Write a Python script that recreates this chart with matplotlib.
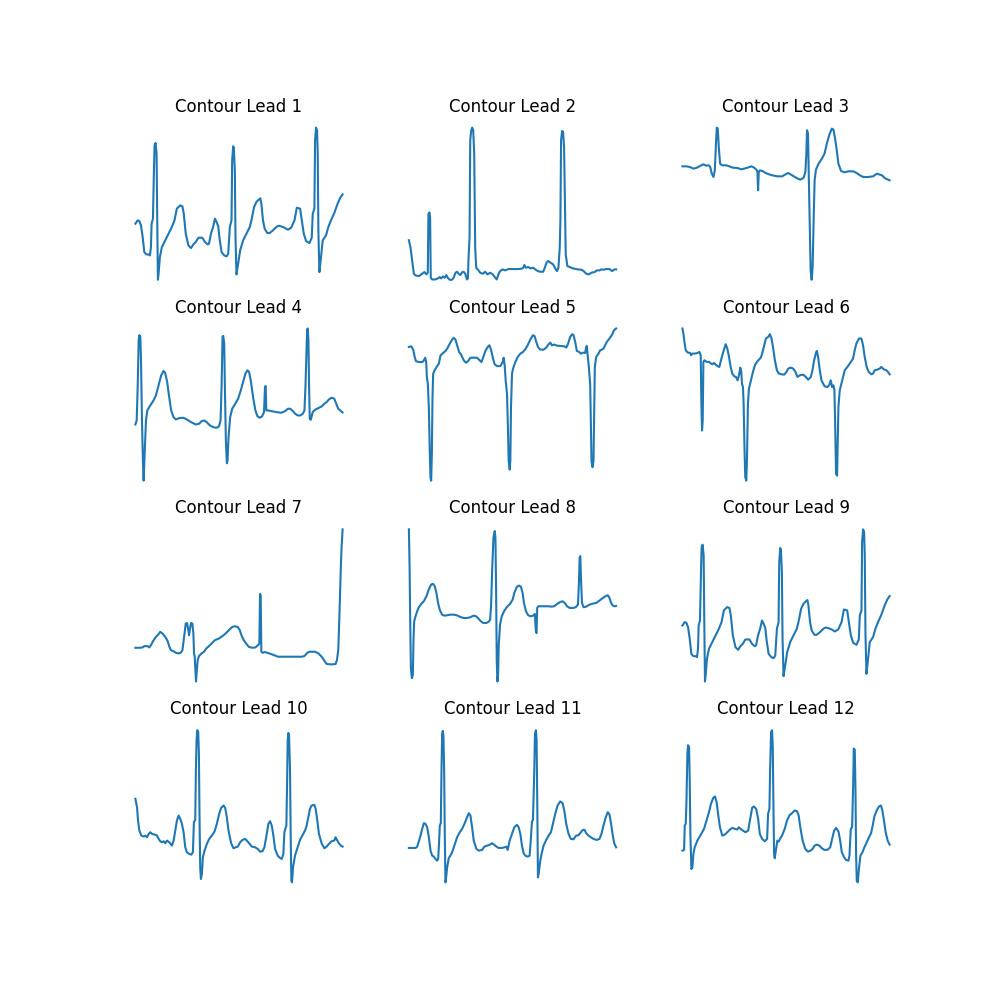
import matplotlib
matplotlib.use("Agg")
import matplotlib.pyplot as plt

# sample position / level (level grows downward)
lead1_t = [30, 37, 42, 47, 52, 57, 63, 70, 74, 77, 79, 83, 86, 88, 91, 94, 96, 98, 100, 104, 110, 120, 130, 140, 148,
           155, 165, 172, 176, 182, 190, 198, 205, 212, 220, 232, 240, 248, 252, 258, 265, 270, 275, 280, 284, 290,
           298, 305, 310, 315, 320, 322, 325, 327, 330, 332, 335, 340, 346, 355, 365, 375, 380, 388, 395, 402, 407,
           410, 415, 420, 428, 435, 445, 455, 462, 470, 480, 490, 500, 510, 517, 527, 532, 538, 545, 555, 562, 565,
           570, 572, 575, 578, 580, 582, 585, 590, 595, 605, 612, 620, 630, 640, 648, 655]
lead1_v = [310, 300, 302, 315, 350, 395, 402, 402, 405, 380, 310, 295, 150, 75, 68, 100, 300, 478, 460, 410, 380, 360,
           340, 320, 300, 265, 255, 258, 280, 340, 375, 383, 372, 365, 352, 352, 365, 372, 370, 340, 318, 295, 305,
           318, 355, 395, 405, 408, 400, 320, 300, 120, 78, 82, 150, 350, 462, 430, 390, 360, 340, 320, 300, 260, 245,
           238, 234, 250, 300, 325, 338, 338, 330, 320, 316, 318, 322, 328, 322, 300, 262, 265, 300, 340, 362, 368,
           352, 280, 265, 60, 22, 30, 100, 330, 455, 410, 360, 345, 320, 300, 278, 250, 232, 222]

lead2_t = [25, 30, 35, 40, 45, 55, 65, 72, 78, 82, 84, 87, 89, 91, 95, 105, 112, 118, 122, 128, 133, 138, 142, 148,
           155, 160, 165, 170, 175, 180, 185, 190, 195, 200, 203, 205, 208, 210, 213, 216, 219, 222, 225, 228, 235,
           240, 248, 255, 262, 270, 278, 284, 290, 295, 300, 308, 315, 325, 340, 355, 365, 370, 373, 378, 385, 392,
           400, 410, 420, 430, 435, 440, 445, 452, 460, 468, 472, 476, 480, 482, 484, 487, 490, 493, 495, 498, 503,
           510, 520, 535, 545, 552, 560, 568, 575, 585, 592, 600, 605, 612, 620, 630, 638, 645, 650]
lead2_v = [358, 380, 420, 458, 463, 465, 458, 453, 460, 455, 280, 275, 290, 470, 475, 475, 472, 468, 472, 466, 470,
           462, 470, 476, 476, 470, 456, 452, 458, 462, 454, 452, 458, 475, 472, 410, 350, 60, 30, 22, 30, 100, 380,
           440, 448, 455, 458, 452, 460, 455, 460, 468, 475, 460, 450, 445, 448, 444, 444, 444, 443, 440, 432, 440,
           438, 442, 440, 448, 452, 452, 440, 425, 420, 425, 430, 445, 450, 440, 380, 300, 60, 32, 35, 80, 200, 400,
           435, 438, 442, 445, 446, 450, 458, 460, 455, 453, 448, 448, 445, 446, 444, 444, 450, 445, 445]

lead3_t = [28, 40, 50, 62, 72, 85, 92, 100, 108, 112, 117, 122, 126, 130, 132, 135, 138, 142, 148, 160, 170, 180, 195,
           205, 215, 225, 237, 245, 252, 255, 257, 259, 262, 270, 280, 290, 300, 315, 330, 340, 348, 355, 365, 375,
           385, 395, 400, 403, 405, 408, 410, 413, 416, 419, 422, 425, 428, 432, 440, 450, 458, 465, 472, 480, 485,
           490, 495, 500, 508, 518, 530, 545, 555, 565, 575, 590, 605, 612, 618, 625, 632, 640, 648, 655]
lead3_v = [138, 138, 140, 145, 142, 135, 132, 136, 135, 140, 160, 170, 150, 60, 22, 25, 80, 130, 135, 135, 138, 142,
           143, 147, 145, 142, 138, 142, 148, 155, 210, 155, 150, 152, 158, 162, 165, 168, 168, 162, 158, 162, 168,
           174, 178, 172, 155, 100, 30, 40, 150, 300, 450, 478, 440, 300, 180, 148, 130, 115, 100, 70, 45, 25, 28,
           55, 90, 130, 152, 156, 153, 153, 158, 165, 170, 170, 168, 163, 160, 163, 165, 173, 177, 180]

lead4_t = [30, 34, 37, 40, 42, 45, 47, 50, 53, 55, 58, 62, 66, 75, 85, 92, 100, 108, 115, 120, 126, 132, 138, 145,
           152, 162, 175, 185, 198, 212, 222, 230, 238, 245, 255, 265, 275, 282, 287, 290, 293, 295, 298, 300, 303,
           306, 308, 311, 316, 322, 330, 340, 348, 355, 362, 368, 373, 378, 385, 392, 398, 405, 412, 418, 421, 423,
           425, 430, 440, 455, 470, 482, 490, 497, 505, 512, 520, 528, 535, 540, 543, 546, 548, 550, 552, 554, 556,
           559, 565, 572, 582, 592, 600, 607, 614, 622, 630, 636, 642, 650, 655]
lead4_v = [312, 300, 200, 60, 45, 50, 120, 300, 430, 480, 400, 300, 270, 255, 240, 225, 195, 165, 152, 158, 185, 230,
           270, 290, 297, 293, 292, 297, 305, 312, 310, 302, 300, 305, 315, 320, 322, 318, 300, 200, 50, 47, 70, 200,
           360, 428, 420, 350, 290, 265, 252, 235, 210, 185, 160, 150, 155, 180, 230, 270, 287, 292, 288, 275, 200,
           197, 270, 270, 272, 275, 277, 272, 265, 265, 272, 280, 285, 285, 280, 270, 200, 100, 28, 25, 60, 200, 295,
           298, 275, 268, 263, 258, 250, 245, 237, 232, 235, 250, 265, 272, 276]

lead5_t = [25, 32, 38, 42, 46, 55, 65, 70, 74, 77, 79, 82, 85, 88, 90, 92, 94, 96, 98, 102, 108, 115, 120, 128, 135,
           140, 148, 155, 160, 165, 170, 176, 182, 190, 197, 203, 210, 220, 230, 238, 243, 248, 255, 262, 267, 272,
           278, 283, 290, 300, 307, 310, 313, 316, 320, 323, 325, 328, 330, 332, 335, 338, 345, 352, 360, 368, 375,
           382, 390, 398, 403, 408, 413, 420, 430, 438, 445, 450, 455, 462, 470, 480, 492, 498, 503, 510, 516, 520,
           525, 530, 537, 542, 548, 555, 558, 560, 562, 566, 570, 572, 574, 577, 580, 582, 584, 588, 595, 600, 605,
           610, 615, 620, 628, 635, 642, 648]
lead5_v = [80, 78, 88, 108, 122, 125, 125, 120, 112, 125, 170, 190, 260, 400, 470, 478, 400, 230, 160, 150, 140, 130,
           105, 98, 92, 85, 70, 58, 53, 58, 75, 95, 103, 120, 127, 122, 112, 112, 112, 120, 125, 112, 92, 80, 75, 88,
           115, 132, 137, 137, 125, 112, 135, 180, 220, 330, 420, 445, 420, 260, 160, 145, 125, 110, 100, 95, 87, 75,
           58, 45, 48, 65, 80, 88, 88, 82, 72, 67, 75, 73, 76, 77, 78, 82, 72, 50, 42, 45, 65, 92, 95, 100, 97, 98,
           80, 77, 100, 140, 190, 300, 420, 438, 420, 280, 140, 110, 100, 90, 88, 85, 75, 65, 55, 45, 30, 25]

lead6_t = [32, 35, 38, 42, 48, 55, 58, 62, 70, 78, 83, 87, 89, 91, 93, 95, 98, 105, 112, 118, 122, 127, 132, 138, 143,
           148, 152, 157, 162, 167, 172, 177, 182, 188, 193, 198, 202, 206, 209, 211, 214, 216, 219, 221, 224, 226,
           229, 232, 238, 244, 250, 256, 263, 268, 273, 278, 283, 290, 295, 300, 305, 310, 316, 322, 330, 338, 345,
           350, 358, 365, 372, 378, 385, 395, 403, 410, 418, 423, 428, 433, 436, 440, 445, 450, 455, 460, 468, 473,
           478, 482, 486, 489, 491, 494, 497, 499, 501, 505, 510, 515, 520, 528, 535, 545, 550, 555, 563, 570, 575,
           580, 586, 592, 600, 605, 610, 618, 625, 630, 637, 645, 650, 655]
lead6_v = [25, 40, 65, 90, 97, 98, 105, 100, 100, 98, 95, 105, 250, 330, 300, 125, 120, 125, 125, 130, 132, 128, 133,
           138, 140, 120, 105, 88, 72, 85, 110, 140, 160, 168, 170, 180, 165, 142, 155, 190, 200, 250, 400, 470, 480,
           420, 250, 205, 180, 155, 135, 125, 117, 112, 95, 75, 55, 50, 42, 55, 85, 120, 150, 160, 162, 163, 155, 145,
           142, 145, 155, 170, 165, 163, 170, 178, 170, 150, 120, 100, 92, 110, 150, 180, 190, 198, 200, 195, 180,
           200, 195, 210, 300, 460, 465, 360, 260, 210, 190, 170, 150, 140, 130, 115, 90, 70, 55, 55, 75, 110, 140,
           155, 162, 160, 150, 148, 145, 140, 147, 150, 155, 162]

lead7_t = [28, 40, 50, 55, 65, 70, 75, 82, 90, 97, 103, 110, 118, 125, 130, 135, 142, 150, 158, 165, 170, 175, 180,
           184, 188, 190, 192, 196, 200, 203, 205, 207, 209, 211, 213, 216, 220, 228, 235, 242, 250, 260, 268, 280,
           290, 298, 305, 312, 320, 328, 337, 343, 348, 355, 362, 370, 380, 390, 398, 402, 404, 406, 408, 412, 418,
           425, 432, 440, 448, 458, 470, 490, 510, 530, 538, 545, 552, 560, 570, 580, 590, 598, 605, 615, 625, 632,
           636, 640, 643, 646, 648, 650, 652, 653]
lead7_v = [383, 383, 382, 378, 378, 382, 375, 362, 350, 343, 335, 340, 350, 362, 378, 390, 393, 398, 400, 398, 390,
           350, 310, 308, 330, 345, 330, 308, 310, 340, 400, 410, 450, 485, 455, 420, 408, 400, 395, 385, 378, 368,
           360, 355, 348, 342, 335, 328, 320, 318, 320, 330, 345, 360, 370, 380, 383, 382, 375, 370, 220, 225, 395,
           398, 396, 398, 400, 403, 406, 410, 410, 410, 410, 410, 408, 400, 395, 395, 395, 400, 410, 422, 432, 433,
           433, 432, 420, 390, 300, 200, 130, 80, 45, 25]

lead8_t = [25, 27, 29, 31, 34, 37, 39, 41, 45, 50, 55, 62, 70, 78, 85, 92, 98, 103, 108, 113, 118, 125, 132, 140,
           150, 160, 170, 180, 190, 200, 210, 220, 228, 235, 242, 250, 258, 265, 270, 273, 276, 280, 284, 286, 288,
           290, 292, 294, 296, 300, 305, 312, 320, 330, 338, 343, 350, 357, 363, 368, 372, 378, 385, 392, 400, 405,
           408, 410, 412, 415, 425, 435, 445, 455, 463, 472, 480, 488, 495, 502, 510, 520, 528, 535, 538, 540, 542,
           544, 547, 552, 560, 570, 580, 590, 600, 610, 618, 625, 630, 635, 640, 645, 650]
lead8_v = [25, 130, 300, 440, 470, 460, 350, 300, 285, 270, 258, 248, 240, 225, 205, 190, 188, 195, 215, 245, 265,
           280, 283, 282, 280, 280, 282, 287, 290, 290, 288, 283, 285, 292, 300, 305, 305, 302, 295, 250, 150, 50, 30,
           50, 200, 420, 480, 460, 370, 310, 285, 270, 258, 248, 235, 215, 198, 193, 197, 215, 245, 270, 282, 285,
           283, 278, 330, 335, 260, 255, 255, 255, 255, 256, 255, 248, 243, 240, 245, 255, 260, 260, 258, 250, 180,
           110, 105, 170, 245, 258, 256, 250, 247, 245, 238, 230, 225, 222, 230, 245, 253, 255, 254]

# lead 9 traces the same beat pattern as lead 1
lead9_t = lead1_t
lead9_v = lead1_v

lead10_t = [30, 35, 38, 42, 48, 55, 60, 65, 70, 75, 80, 88, 95, 100, 105, 110, 115, 120, 125, 132, 140, 145, 150, 155,
            160, 165, 170, 175, 180, 185, 192, 198, 203, 206, 210, 212, 214, 216, 219, 221, 223, 225, 227, 230, 233,
            238, 245, 252, 260, 268, 275, 282, 288, 295, 300, 305, 310, 318, 325, 332, 338, 345, 352, 360, 365, 372,
            380, 390, 398, 405, 412, 418, 425, 430, 435, 440, 445, 450, 458, 465, 470, 475, 478, 484, 486, 488, 490,
            492, 495, 497, 499, 501, 504, 510, 518, 525, 532, 540, 545, 550, 555, 560, 568, 572, 577, 582, 590, 598,
            605, 612, 620, 628, 632, 636, 642, 648, 653]
lead10_v = [235, 260, 300, 330, 345, 348, 345, 350, 340, 335, 340, 342, 345, 355, 362, 365, 362, 368, 360, 365, 375,
            360, 330, 300, 285, 295, 310, 335, 380, 395, 400, 402, 395, 305, 298, 150, 60, 30, 35, 100, 300, 440,
            475, 460, 410, 390, 370, 355, 345, 333, 310, 280, 262, 255, 262, 290, 330, 368, 383, 380, 378, 365, 358,
            355, 360, 368, 378, 380, 385, 393, 392, 380, 340, 310, 302, 315, 345, 385, 405, 412, 415, 400, 335, 315,
            200, 60, 38, 45, 150, 350, 480, 485, 440, 405, 380, 358, 345, 330, 315, 290, 265, 255, 253, 265, 300,
            340, 368, 383, 378, 370, 362, 360, 350, 358, 368, 375, 378]

lead11_t = [25, 35, 45, 50, 55, 60, 65, 70, 75, 80, 85, 90, 95, 100, 105, 110, 113, 115, 118, 121, 123, 125, 127, 129,
            131, 133, 135, 137, 140, 145, 150, 155, 160, 165, 170, 178, 185, 192, 198, 205, 210, 215, 220, 228, 235,
            245, 252, 260, 267, 275, 282, 288, 295, 305, 313, 318, 322, 328, 335, 342, 350, 355, 360, 365, 370, 375,
            382, 388, 392, 395, 398, 402, 404, 407, 409, 411, 413, 415, 420, 425, 430, 437, 445, 452, 458, 465, 472,
            480, 487, 493, 498, 505, 512, 520, 528, 535, 542, 548, 553, 558, 565, 572, 580, 590, 598, 604, 610, 617,
            623, 628, 633, 638, 643, 648]
lead11_v = [382, 382, 382, 378, 362, 345, 325, 308, 310, 320, 350, 390, 405, 408, 415, 420, 415, 380, 315, 308, 150,
            40, 32, 50, 150, 350, 485, 470, 440, 412, 405, 395, 380, 365, 350, 335, 325, 310, 295, 278, 285, 320,
            360, 385, 390, 388, 378, 375, 373, 368, 373, 378, 382, 382, 380, 378, 388, 360, 340, 320, 313, 320, 340,
            375, 398, 405, 408, 405, 350, 303, 298, 150, 40, 30, 60, 250, 470, 460, 420, 395, 375, 360, 345, 335, 310,
            280, 255, 243, 248, 275, 310, 340, 355, 356, 345, 344, 335, 328, 328, 338, 345, 350, 355, 358, 355, 340,
            315, 290, 275, 282, 310, 345, 370, 380]

lead12_t = [30, 35, 37, 40, 42, 45, 47, 50, 52, 54, 57, 60, 63, 67, 75, 85, 95, 102, 110, 116, 123, 128, 133, 138,
            143, 150, 158, 165, 172, 180, 188, 195, 200, 205, 212, 220, 228, 235, 240, 245, 252, 258, 263, 270, 278,
            285, 288, 292, 294, 297, 300, 302, 304, 306, 308, 312, 316, 320, 324, 330, 338, 345, 352, 360, 368, 375,
            380, 385, 392, 400, 408, 416, 422, 428, 435, 442, 450, 458, 468, 475, 482, 487, 493, 500, 505, 510, 517,
            523, 530, 533, 537, 541, 544, 546, 549, 551, 553, 555, 558, 562, 566, 572, 578, 585, 592, 598, 603, 608,
            615, 622, 628, 632, 637, 642, 648, 654]
lead12_v = [390, 388, 315, 310, 250, 100, 75, 80, 180, 340, 445, 440, 400, 380, 360, 343, 325, 302, 275, 250, 232,
            228, 245, 285, 320, 345, 342, 335, 328, 322, 325, 327, 320, 325, 330, 335, 330, 290, 262, 258, 265, 295,
            340, 355, 362, 355, 280, 265, 150, 35, 30, 80, 250, 400, 413, 385, 360, 363, 355, 345, 325, 300, 285, 278,
            270, 272, 285, 320, 360, 385, 393, 390, 385, 375, 372, 375, 383, 388, 387, 380, 350, 330, 322, 333, 360,
            395, 410, 418, 420, 405, 325, 320, 200, 85, 88, 200, 400, 480, 485, 440, 405, 395, 380, 365, 350, 338,
            315, 288, 270, 258, 255, 270, 300, 335, 360, 372]

leads = [(lead1_t, lead1_v), (lead2_t, lead2_v), (lead3_t, lead3_v),
         (lead4_t, lead4_v), (lead5_t, lead5_v), (lead6_t, lead6_v),
         (lead7_t, lead7_v), (lead8_t, lead8_v), (lead9_t, lead9_v),
         (lead10_t, lead10_v), (lead11_t, lead11_v), (lead12_t, lead12_v)]

fig, axes = plt.subplots(4, 3, figsize=(10, 10))

for i, ax in enumerate(axes.flat):
    t, v = leads[i]
    ax.plot(t, [-x for x in v])
    ax.set_title(f"Contour Lead {i + 1}")
    ax.axis("off")

plt.savefig("out.png", dpi=100)
